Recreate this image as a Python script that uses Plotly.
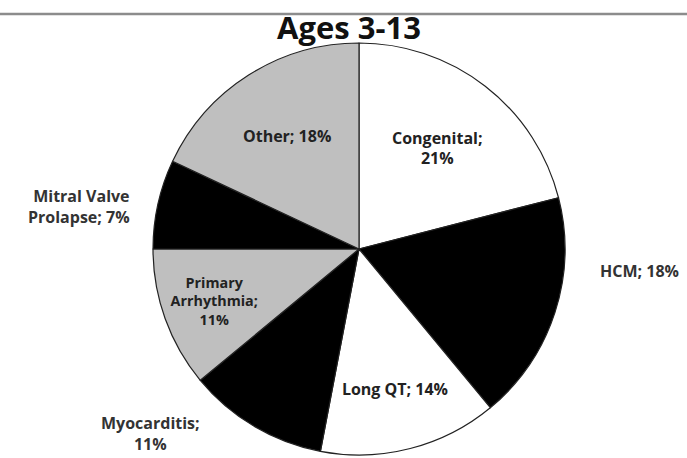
import plotly.graph_objects as go

categories = ["Congenital", "HCM", "Long QT", "Myocarditis", "Primary Arrhythmia",
              "Mitral Valve Prolapse", "Other"]
values = [21, 18, 14, 11, 11, 7, 18]
slice_colors = ["#ffffff", "#000000", "#ffffff", "#000000", "#bfbfbf", "#000000", "#bfbfbf"]
display_names = ["Congenital;<br>", "HCM; ", "Long QT; ", "Myocarditis;<br>",
                 "Primary<br>Arrhythmia;<br>", "Mitral Valve<br>Prolapse; ", "Other; "]
inside_flags = [True, False, True, False, True, False, True]
title_text = "Ages 3-13"

texts = [f"{n}{v}%" for n, v in zip(display_names, values)]

W, H = 687, 458
cx, cy, r = 359, 249, 206
FONT = "Open Sans"

# label anchor positions (pixels) for the labels drawn outside the pie
outside_label_pos = {
    "HCM": (639, 271, "center"),
    "Myocarditis": (150, 433, "center"),
    "Mitral Valve Prolapse": (132, 206, "right"),
}

fig = go.Figure(go.Pie(
    labels=categories,
    values=values,
    text=[t if f else "" for t, f in zip(texts, inside_flags)],
    textinfo="text",
    textposition="inside",
    insidetextorientation="horizontal",
    sort=False,
    direction="clockwise",
    rotation=0,
    marker=dict(colors=slice_colors, line=dict(color="#222222", width=1.2)),
    insidetextfont=dict(family=FONT, size=16, color="#222222", weight="bold"),
    hoverinfo="label+percent",
    showlegend=False,
    domain=dict(x=[(cx - r) / W, (cx + r) / W], y=[(H - cy - r) / H, (H - cy + r) / H]),
))

annotations = []
for cat, t, f in zip(categories, texts, inside_flags):
    if f:
        continue
    px, py, al = outside_label_pos[cat]
    annotations.append(dict(
        text=t, x=px / W, y=1 - py / H, xref="paper", yref="paper",
        xanchor=al, yanchor="middle",
        align=al, showarrow=False,
        font=dict(family=FONT, size=16, color="#333333", weight="bold"),
    ))

fig.update_layout(
    width=W, height=H,
    margin=dict(l=0, r=0, t=0, b=0),
    paper_bgcolor="white",
    plot_bgcolor="white",
    title=dict(text=f"<b>{title_text}</b>", x=349 / W, xanchor="center",
               y=1 - 28 / H, yanchor="middle",
               font=dict(family=FONT, size=31, color="#111111")),
    annotations=annotations,
    shapes=[dict(type="line", xref="paper", yref="paper", x0=0, x1=1,
                 y0=1 - 14 / H, y1=1 - 14 / H,
                 line=dict(color="#8c8c8c", width=2.5), layer="below")],
)

fig.write_html("out.html")
